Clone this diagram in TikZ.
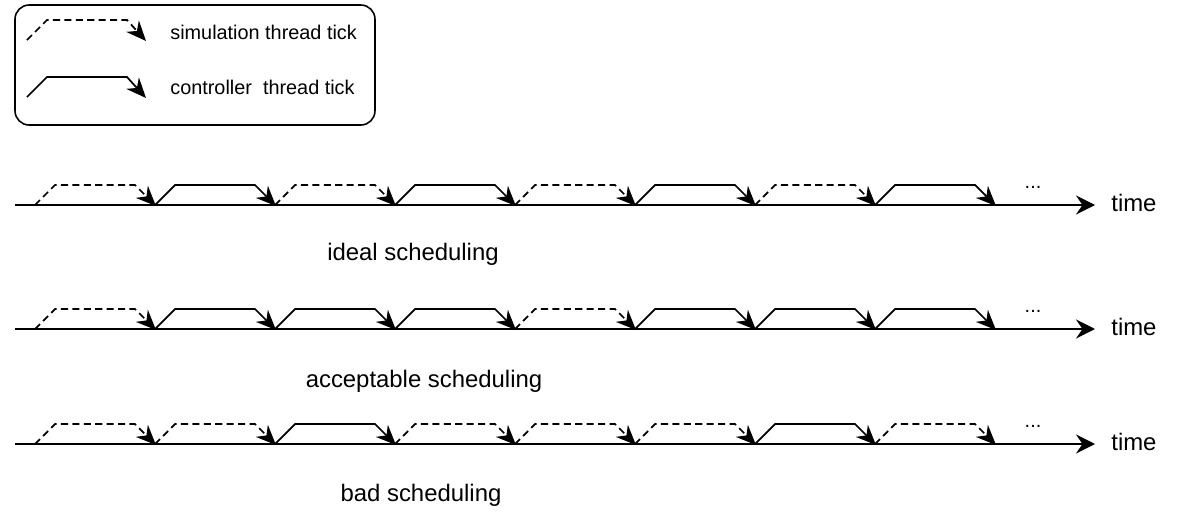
\documentclass[tikz,border=0pt]{standalone}
\usepackage{fontspec}
\setmainfont{Liberation Sans}
\usetikzlibrary{arrows.meta}

\tikzset{
	axis/.style={line width=1.1pt,-{Stealth[length=3.8mm,width=3.8mm,inset=1.3mm]}},
	sim/.style={line width=1pt,dash pattern=on 4pt off 2.5pt,-{Stealth[length=4mm,width=3.4mm,inset=1.3mm]}},
	ctrl/.style={line width=1pt,-{Stealth[length=4mm,width=3.4mm,inset=1.3mm]}},
	caption/.style={font=\fontsize{13.6}{16}\selectfont,inner sep=0pt},
	legendtext/.style={font=\fontsize{11.3}{13}\selectfont,inner sep=0pt,anchor=west}
}

\begin{document}
\begin{tikzpicture}[x=0.02cm,y=-0.02cm]
	\useasboundingbox (0,0) rectangle (1196,528);
	% legend
	\node [draw,line width=0.9pt,rounded corners=8pt,minimum width=7.2cm,minimum height=2.4cm,inner sep=0pt] (legend) at (195,65) {};
	\draw [sim] (27,40) -- (47,20) -- (127,20) -- (146,41);
	\node [legendtext] (simtext) at (170,32) {simulation thread tick};
	\draw [ctrl] (27,97) -- (47,77) -- (127,77) -- (146,98);
	\node [legendtext] (ctrltext) at (170,87) {controller~ thread tick};
	% time lines
	\foreach \r/\y/\pat in {1/205/{sim,ctrl,sim,ctrl,sim,ctrl,sim,ctrl},
	                        2/329/{sim,ctrl,ctrl,ctrl,sim,ctrl,ctrl,ctrl},
	                        3/444/{sim,sim,ctrl,sim,sim,sim,ctrl,sim}} {
		\coordinate (start\r) at (15,\y);
		\coordinate (end\r) at (1095,\y);
		\draw [axis] (start\r) -- (end\r);
		\node [caption,anchor=west] (time\r) at (1111,\y-2) {time};
		\node [legendtext,anchor=center] (dots\r) at (1033,\y-18) {...};
		\foreach \k [count=\i from 0] in \pat {
			\draw [\k] (35+120*\i,\y) -- ++(20,-20) -- ++(80,0) -- ++(21,21);
		}
	}
	\node [caption] (ideal) at (413,254) {ideal scheduling};
	\node [caption] (acceptable) at (424,381) {acceptable scheduling};
	\node [caption] (bad) at (421,495) {bad scheduling};
\end{tikzpicture}
\end{document}
